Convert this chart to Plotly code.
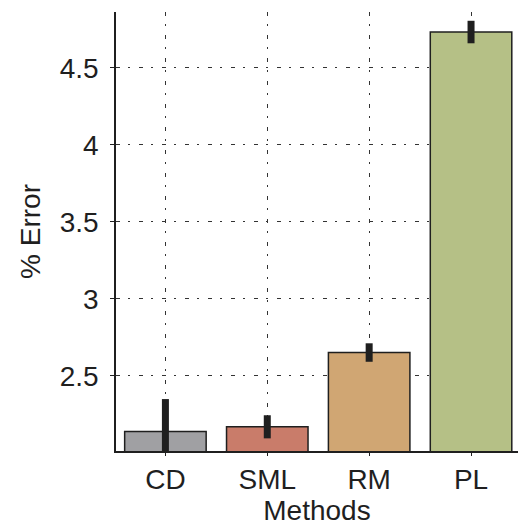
import plotly.graph_objects as go

# Mean % error per method, with spread shown as error bars
methods = ["CD", "SML", "RM", "PL"]
pct_error = [2.14, 2.17, 2.652, 4.732]
pct_spread = [0.21, 0.075, 0.06, 0.073]
bar_colors = ["#a0a0a3", "#c97c6a", "#d0a673", "#b5c086"]

y_tickvals = [2.5, 3, 3.5, 4, 4.5]
y_ticktext = ["2.5", "3", "3.5", "4", "4.5"]

font_family = "Liberation Sans, Arial, Helvetica, sans-serif"
ink = "#1f1f1f"

fig = go.Figure(
    go.Bar(
        x=list(range(len(methods))),
        y=pct_error,
        width=0.8,
        marker=dict(color=bar_colors, line=dict(color=ink, width=1.5)),
        error_y=dict(type="data", array=pct_spread, visible=True,
                     color=ink, thickness=7, width=0),
        showlegend=False,
    )
)

grid_dash = "4px,8px,2px,9px"

fig.update_layout(
    width=518,
    height=530,
    margin=dict(l=116, r=0, t=12, b=79),
    paper_bgcolor="white",
    plot_bgcolor="white",
    font=dict(family=font_family, size=28, color=ink),
    xaxis=dict(
        range=[-0.485, 3.461],
        tickvals=list(range(len(methods))),
        ticktext=methods,
        showgrid=True,
        gridcolor="#333333",
        gridwidth=1,
        griddash=grid_dash,
        showline=True,
        linecolor=ink,
        linewidth=1.5,
        ticks="outside",
        ticklen=3,
        tickcolor=ink,
        zeroline=False,
        title=dict(text="Methods", standoff=6, font=dict(size=28)),
    ),
    yaxis=dict(
        range=[2.013, 4.862],
        tickvals=y_tickvals,
        ticktext=y_ticktext,
        showgrid=True,
        gridcolor="#333333",
        gridwidth=1,
        griddash=grid_dash,
        showline=True,
        linecolor=ink,
        linewidth=1.5,
        ticks="outside",
        ticklen=4,
        tickcolor=ink,
        ticklabelstandoff=6,
        zeroline=False,
        title=dict(text="% Error", standoff=11, font=dict(size=28)),
    ),
)

fig.write_html("out.html")
